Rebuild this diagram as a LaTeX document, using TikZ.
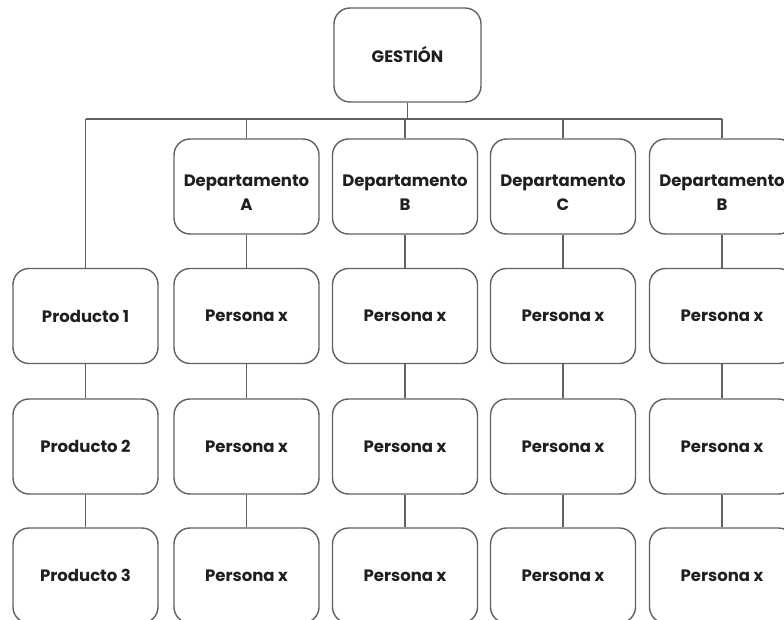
\documentclass[tikz,border=0pt]{standalone}
\usepackage{fontspec}
\setmainfont{Poppins}
\newcommand{\deptxt}[1]{\raisebox{-7pt}[\height][\depth]{\begin{tabular}{@{}c@{}}Departamento\\#1\end{tabular}}}
\begin{document}
\begin{tikzpicture}[x=1pt,y=-1pt,
  box/.style={draw=black!62, line width=1.4pt, rounded corners=16pt, fill=white,
    minimum width=145pt, minimum height=95pt, align=center, inner sep=2pt,
    font=\fontsize{16.5}{24}\selectfont\bfseries, text=black!88},
  link/.style={draw=black!62, line width=1.4pt}]
\useasboundingbox (0,0) rectangle (784,620);
\clip (0,0) rectangle (784,620);
\node[box, minimum width=147pt, minimum height=94pt] (g) at (407.5,55) {GESTIÓN};
\coordinate (bus) at (407.5,119);
% columns
\node[box] (p1) at (85.5,316) {Producto 1};
\node[box] (p2) at (85.5,446.5) {Producto 2};
\node[box] (p3) at (85.5,575.5) {Producto 3};
\foreach \n/\x/\l in {a/246.5/A, b/405/B, c/563/C, d/722/B}{
  \node[box] (d\n) at (\x,186.5) {\deptxt{\l}};
  \node[box] (\n1) at (\x,316) {Persona x};
  \node[box] (\n2) at (\x,446.5) {Persona x};
  \node[box] (\n3) at (\x,575.5) {Persona x};
}
\coordinate (busL) at (85.5,119);
\coordinate (busR) at (722,119);
\path[link] (busL) -- (busR);
\path[link] (g.south) -- (bus);
\path[link] (busL) -- (p1.north);
\foreach \n in {a,b,c,d}{
  \path[link] (d\n.north |- busL) -- (d\n.north);
  \path[link] (d\n.south) -- (\n1.north) (\n1.south) -- (\n2.north) (\n2.south) -- (\n3.north);
}
\path[link] (p1.south) -- (p2.north) (p2.south) -- (p3.north);
\end{tikzpicture}
\end{document}
